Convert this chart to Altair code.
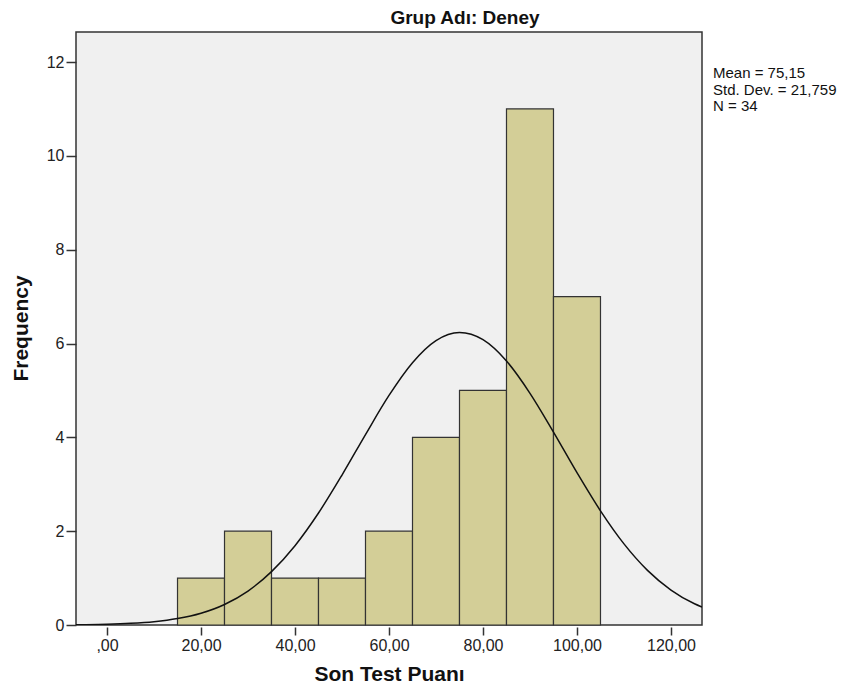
import altair as alt
import pandas as pd

# Histogram bins (Son Test Puanı) and frequencies
bin_start = [15, 25, 35, 45, 55, 65, 75, 85, 95]
bin_end = [25, 35, 45, 55, 65, 75, 85, 95, 105]
counts = [1, 2, 1, 1, 2, 4, 5, 11, 7]

# Normal curve points
curve_x = [-6.6, -5, 0, 5, 10, 15, 20, 25, 30, 35, 40, 45, 50, 55, 60, 65, 70,
           75, 80, 85, 90, 95, 100, 105, 110, 115, 120, 125, 126.6]
curve_y = [0.005, 0.007, 0.016, 0.035, 0.07, 0.137, 0.251, 0.438, 0.724, 1.137,
           1.691, 2.387, 3.197, 4.06, 4.893, 5.591, 6.062, 6.234, 6.081, 5.627,
           4.939, 4.112, 3.247, 2.433, 1.729, 1.165, 0.745, 0.452, 0.381]

# Summary statistics and title
group_title = "Grup Adı: Deney"
stat_mean = "75,15"
stat_sd = "21,759"
stat_n = "34"

x_ticks = [0, 20, 40, 60, 80, 100, 120]
y_ticks = [0, 2, 4, 6, 8, 10, 12]
x_domain = [-6.6, 126.6]
y_domain = [0, 12.64]

FONT = "Liberation Sans"

bars_df = pd.DataFrame({"start": bin_start, "end": bin_end, "count": counts})
curve_df = pd.DataFrame({"x": curve_x, "y": curve_y})
stats_df = pd.DataFrame({"label": [f"Mean = {stat_mean}\nStd. Dev. = {stat_sd}\nN = {stat_n}"]})
title_df = pd.DataFrame({"label": [group_title]})

x_scale = alt.Scale(domain=x_domain, nice=False, zero=False)
y_scale = alt.Scale(domain=y_domain, nice=False)

x_axis = alt.Axis(
    values=x_ticks,
    labelExpr="datum.value == 0 ? ',00' : replace(format(datum.value, '.2f'), '.', ',')",
    grid=False, domain=False, tickSize=8, offset=2, labelPadding=2,
    tickColor="#333333", tickWidth=1.5,
    labelFontSize=16, labelFont=FONT, labelColor="#222222",
    title="Son Test Puanı", titleFont=FONT, titleFontSize=21, titleFontWeight="bold",
    titleColor="#111111", titleX=313, titleY=53, titleBaseline="alphabetic", titleAlign="center",
)
y_axis = alt.Axis(
    values=y_ticks, format="d",
    grid=False, domain=False, tickSize=10, labelPadding=2,
    tickColor="#333333", tickWidth=1.5,
    labelFontSize=16, labelFont=FONT, labelColor="#222222",
    title="Frequency", titleFont=FONT, titleFontSize=21, titleFontWeight="bold",
    titleColor="#111111", titleX=-45, titleY=296, titleAngle=270,
    titleBaseline="bottom", titleAlign="center",
)

bars = alt.Chart(bars_df).mark_rect(
    fill="#D3CE97", stroke="#333333", strokeWidth=1.2
).encode(
    x=alt.X("start:Q", scale=x_scale, axis=x_axis),
    x2="end:Q",
    y=alt.Y("count:Q", scale=y_scale, axis=y_axis),
    y2=alt.datum(0),
)

curve = alt.Chart(curve_df).mark_line(
    color="#111111", strokeWidth=1.5, interpolate="monotone", clip=True
).encode(
    x=alt.X("x:Q", scale=x_scale),
    y=alt.Y("y:Q", scale=y_scale),
)

stats = alt.Chart(stats_df).mark_text(
    align="left", baseline="alphabetic", lineBreak="\n", lineHeight=16.5,
    font=FONT, fontSize=15, color="#111111",
).encode(
    text="label:N",
    x=alt.value(637),
    y=alt.value(46),
)

title = alt.Chart(title_df).mark_text(
    align="center", baseline="alphabetic",
    font=FONT, fontSize=19, fontWeight="bold", color="#111111",
).encode(
    text="label:N",
    x=alt.value(389),
    y=alt.value(-8),
)

chart = alt.layer(bars, curve, stats, title).properties(
    width=626,
    height=593,
    autosize=alt.AutoSizeParams(type="none"),
    padding={"left": 68, "top": 24, "right": 141, "bottom": 60},
).configure_view(
    fill="#F0F0F0", stroke="#333333", strokeWidth=1.5
)

chart.save("out.html", embed_options={"renderer": "svg", "actions": False})
